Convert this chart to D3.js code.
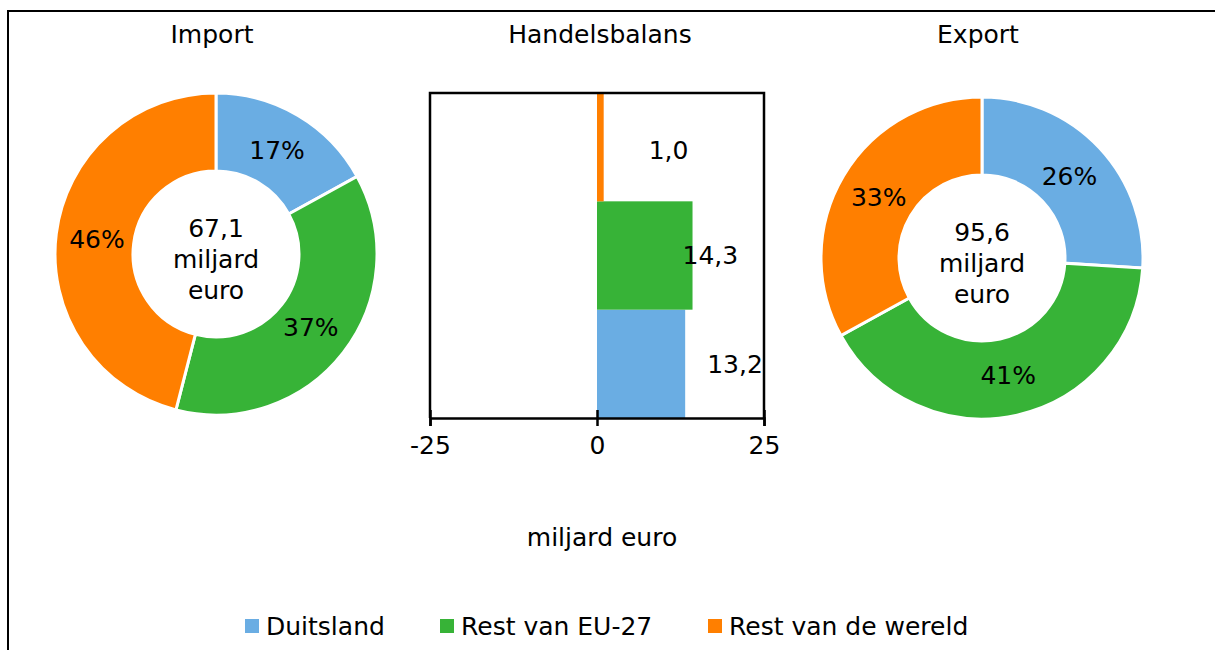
<!DOCTYPE html>
<html>
<head>
<meta charset="utf-8">
<script src="https://cdn.jsdelivr.net/npm/d3@7"></script>
<style>
  body { margin: 0; background: #fff; }
  svg text { font-family: "DejaVu Sans", Verdana, sans-serif; font-size: 25px; fill: #000; }
</style>
</head>
<body>
<svg id="chart" width="1215" height="650"></svg>
<script>
"use strict"

// categories (legend order)
const categories = ["Duitsland", "Rest van EU-27", "Rest van de wereld"];
const colours = ["#6aade3", "#37b337", "#ff7f00"];

// shares in percent
const importShares = [17, 37, 46];
const exportShares = [26, 41, 33];
const importTotal = "67,1";
const exportTotal = "95,6";

// trade balance, miljard euro
const balanceValues = [13.2, 14.3, 1.0];
const balanceTicks = [-25, 0, 25];

const svg = d3.select("#chart");
const fmt = v => d3.format(".1f")(v).replace(".", ",");

// frame (only top and left edges visible)
svg.append("line").attr("x1", 8).attr("x2", 1215).attr("y1", 11).attr("y2", 11)
    .attr("stroke", "#000").attr("stroke-width", 2);
svg.append("line").attr("x1", 8).attr("x2", 8).attr("y1", 10).attr("y2", 650)
    .attr("stroke", "#000").attr("stroke-width", 2);

function drawDonut(cx, cy, shares, total, title) {

    const g = svg.append("g").attr("transform", `translate(${cx},${cy})`);

    const pie = d3.pie().sort(null).value(d => d);
    const arc = d3.arc().innerRadius(83).outerRadius(161);
    const labelArc = d3.arc().innerRadius(80).outerRadius(160);

    g.selectAll("path")
        .data(pie(shares))
        .join("path")
        .attr("d", arc)
        .attr("fill", (d, i) => colours[i])
        .attr("stroke", "#fff")
        .attr("stroke-width", 3);

    g.selectAll("text.pct")
        .data(pie(shares))
        .join("text")
        .attr("class", "pct")
        .attr("transform", d => `translate(${labelArc.centroid(d)})`)
        .attr("text-anchor", "middle")
        .attr("dy", "0.35em")
        .text(d => d.data + "%");

    const lines = [total, "miljard", "euro"];
    g.selectAll("text.center")
        .data(lines)
        .join("text")
        .attr("class", "center")
        .attr("text-anchor", "middle")
        .attr("y", (d, i) => (i - 1) * 31 + 5)
        .attr("dy", "0.35em")
        .text(d => d);

    svg.append("text")
        .attr("x", cx - 4)
        .attr("y", 43)
        .attr("text-anchor", "middle")
        .text(title);
}

drawDonut(216, 254, importShares, importTotal, "Import");
drawDonut(982, 258, exportShares, exportTotal, "Export");

// trade balance bars
const plot = { left: 430, right: 764, top: 93, bottom: 418 };

const x = d3.scaleLinear().domain([-25, 25]).range([plot.left, plot.right]);
const y = d3.scaleBand()
    .domain(categories.slice().reverse())
    .range([plot.top, plot.bottom])
    .padding(0);

const bars = svg.append("g");
bars.selectAll("rect")
    .data(categories)
    .join("rect")
    .attr("x", (d, i) => x(Math.min(0, balanceValues[i])))
    .attr("y", d => y(d))
    .attr("width", (d, i) => Math.abs(x(balanceValues[i]) - x(0)))
    .attr("height", y.bandwidth())
    .attr("fill", (d, i) => colours[i]);

// manual label nudges as in the original
const labelShift = [22, -10, 45];
bars.selectAll("text")
    .data(categories)
    .join("text")
    .attr("x", (d, i) => x(balanceValues[i]) + labelShift[i])
    .attr("y", (d, i) => y(d) + y.bandwidth() / 2 + (i == 2 ? 3 : 0))
    .attr("dy", "0.35em")
    .text((d, i) => fmt(balanceValues[i]));

// frame of plot area
svg.append("path")
    .attr("d", `M${plot.left},${plot.bottom}V${plot.top}H${plot.right}V${plot.bottom}`)
    .attr("fill", "none").attr("stroke", "#000").attr("stroke-width", 2.5);

const axis = svg.append("g")
    .attr("transform", `translate(0,${plot.bottom})`)
    .call(d3.axisBottom(x).tickValues(balanceTicks).tickSize(8).tickPadding(10).tickFormat(d => d));
axis.select(".domain").attr("stroke-width", 2.5);
axis.selectAll(".tick line").attr("stroke-width", 2.5).attr("y1", -8);
axis.selectAll(".tick text").style("font-size", "25px").attr("font-family", null);

svg.append("text")
    .attr("x", 602)
    .attr("y", 537)
    .attr("dy", "0.35em")
    .attr("text-anchor", "middle")
    .text("miljard euro");

svg.append("text")
    .attr("x", 600)
    .attr("y", 43)
    .attr("text-anchor", "middle")
    .text("Handelsbalans");

// legend
const legendX = [245, 440, 708];
const legend = svg.append("g").selectAll("g")
    .data(categories)
    .join("g")
    .attr("transform", (d, i) => `translate(${legendX[i]},626)`);
legend.append("rect")
    .attr("x", 0).attr("y", -7).attr("width", 14).attr("height", 14)
    .attr("fill", (d, i) => colours[i]);
legend.append("text")
    .attr("x", 21)
    .attr("dy", "0.35em")
    .text(d => d);
</script>
</body>
</html>
